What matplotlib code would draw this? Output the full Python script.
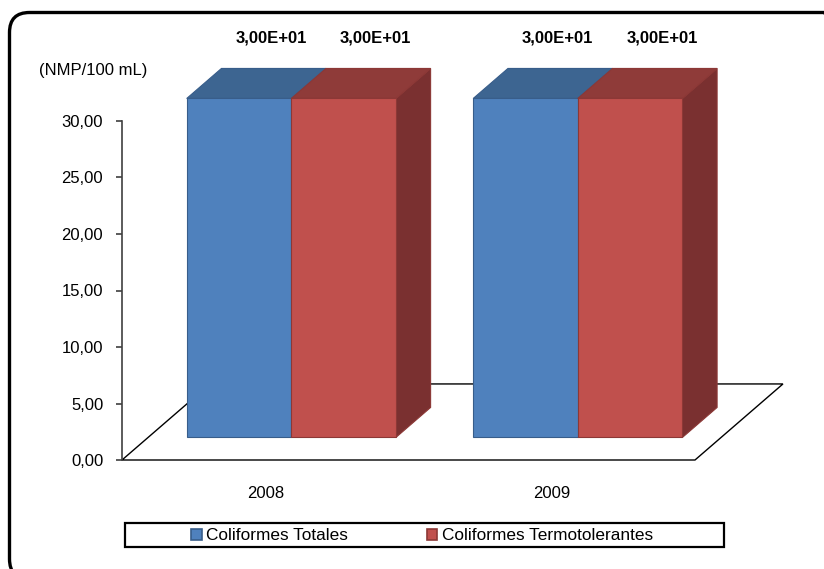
import matplotlib
matplotlib.use("Agg")
import matplotlib.pyplot as plt
from matplotlib.patches import Polygon, Rectangle, FancyBboxPatch, Patch
from matplotlib.ticker import FuncFormatter
from matplotlib.transforms import IdentityTransform

plt.rcParams['font.family'] = ['Liberation Sans', 'DejaVu Sans']

# --- data ---
years = ["2008", "2009"]
series_names = ["Coliformes Totales", "Coliformes Termotolerantes"]
totales = [30.0, 30.0]
termotolerantes = [30.0, 30.0]
y_ticks = [0, 5, 10, 15, 20, 25, 30]
y_unit = "(NMP/100 mL)"

# --- style ---
front_cols = ["#4F81BD", "#C0504D"]
top_cols = ["#3D6591", "#8F3B39"]
side_cols = ["#38597F", "#7A3030"]
edge_cols = ["#385D8A", "#8C3836"]

W, H = 824, 569
fig = plt.figure(figsize=(W / 100, H / 100), dpi=100)

# plot area in pixels (left, top of value-axis, right, floor front)
px_left, px_right = 122, 695
px_zero, px_top = 460, 121
ax = fig.add_axes([px_left / W, (H - px_zero) / H,
                   (px_right - px_left) / W, (px_zero - px_top) / H])
ax.set_xlim(-0.5, 1.5)
ax.set_ylim(0, 30)

# oblique depth projection (in data units)
DX, DY = 0.307, 6.73
Z_FRONT, Z_DEPTH = 0.296, 0.395
BAR_W = 0.365


def proj(x, y, z):
    return (x + z * DX, y + z * DY)


def face(pts, fc, ec, lw=0.8, z=2):
    ax.add_patch(Polygon(pts, closed=True, facecolor=fc, edgecolor=ec,
                         linewidth=lw, clip_on=False, zorder=z,
                         transform=ax.transData))


# floor
x0, x1 = ax.get_xlim()
floor = [proj(x0, 0, 0), proj(x1, 0, 0), proj(x1, 0, 1), proj(x0, 0, 1)]
face(floor, "white", "black", lw=1.0, z=1)

# bars: front, top and right side faces
series = [totales, termotolerantes]
for i, yr in enumerate(years):
    for s, vals in enumerate(series):
        v = vals[i]
        xl = i - BAR_W + s * BAR_W
        xr = xl + BAR_W
        zf, zb = Z_FRONT, Z_FRONT + Z_DEPTH
        front = [proj(xl, 0, zf), proj(xr, 0, zf), proj(xr, v, zf), proj(xl, v, zf)]
        top = [proj(xl, v, zf), proj(xr, v, zf), proj(xr, v, zb), proj(xl, v, zb)]
        side = [proj(xr, 0, zf), proj(xr, 0, zb), proj(xr, v, zb), proj(xr, v, zf)]
        zo = 3 + i * 2 + s
        face(side, side_cols[s], edge_cols[s], z=zo)
        face(top, top_cols[s], edge_cols[s], z=zo)
        face(front, front_cols[s], edge_cols[s], z=zo)
        lx, ly = proj((xl + xr) / 2, v, zb)
        txt = "{:.2E}".format(v).replace(".", ",")
        ax.annotate(txt, (lx, ly), xytext=(-2, 22), textcoords="offset points",
                    ha="center", va="center", fontsize=12, fontweight="bold",
                    annotation_clip=False, zorder=20)

# axes styling
for sp in ["top", "right", "bottom"]:
    ax.spines[sp].set_visible(False)
ax.spines["left"].set_bounds(0, 30)
ax.spines["left"].set_color("#404040")
ax.spines["left"].set_linewidth(1.2)
ax.set_yticks(y_ticks)
ax.yaxis.set_major_formatter(FuncFormatter(lambda v, p: "{:.2f}".format(v).replace(".", ",")))
ax.tick_params(axis="y", direction="out", length=4.5, width=1.2, color="#404040",
               pad=9, labelsize=12)
ax.set_xticks(range(len(years)))
ax.set_xticklabels(years)
ax.tick_params(axis="x", length=0, pad=19, labelsize=12)
ax.patch.set_visible(False)

fig.text(39 / W, 1 - 70 / H, y_unit, ha="left", va="center", fontsize=12)

# legend
handles = [Patch(facecolor=front_cols[k], edgecolor=edge_cols[k], linewidth=1.2,
                 label=series_names[k]) for k in range(2)]
fig.legend(handles=handles, loc="center", bbox_to_anchor=(422 / W, 1 - 536 / H),
           ncol=2, frameon=False, fontsize=12.4, handlelength=0.6,
           handleheight=0.65, handletextpad=0.25, columnspacing=4.6)
fig.add_artist(Rectangle((125 / W, 1 - 547 / H), (724 - 125) / W, (547 - 523) / H,
                         transform=fig.transFigure, fill=False,
                         edgecolor="black", linewidth=1.6))

# rounded outer frame (pixel coordinates, origin bottom-left)
fig.add_artist(FancyBboxPatch((9.5, -10), 834, H - 12.5 + 10,
                              boxstyle="round,pad=0,rounding_size=20",
                              transform=IdentityTransform(), fill=False,
                              edgecolor="black", linewidth=2.4))

fig.savefig("out.png", dpi=100)
